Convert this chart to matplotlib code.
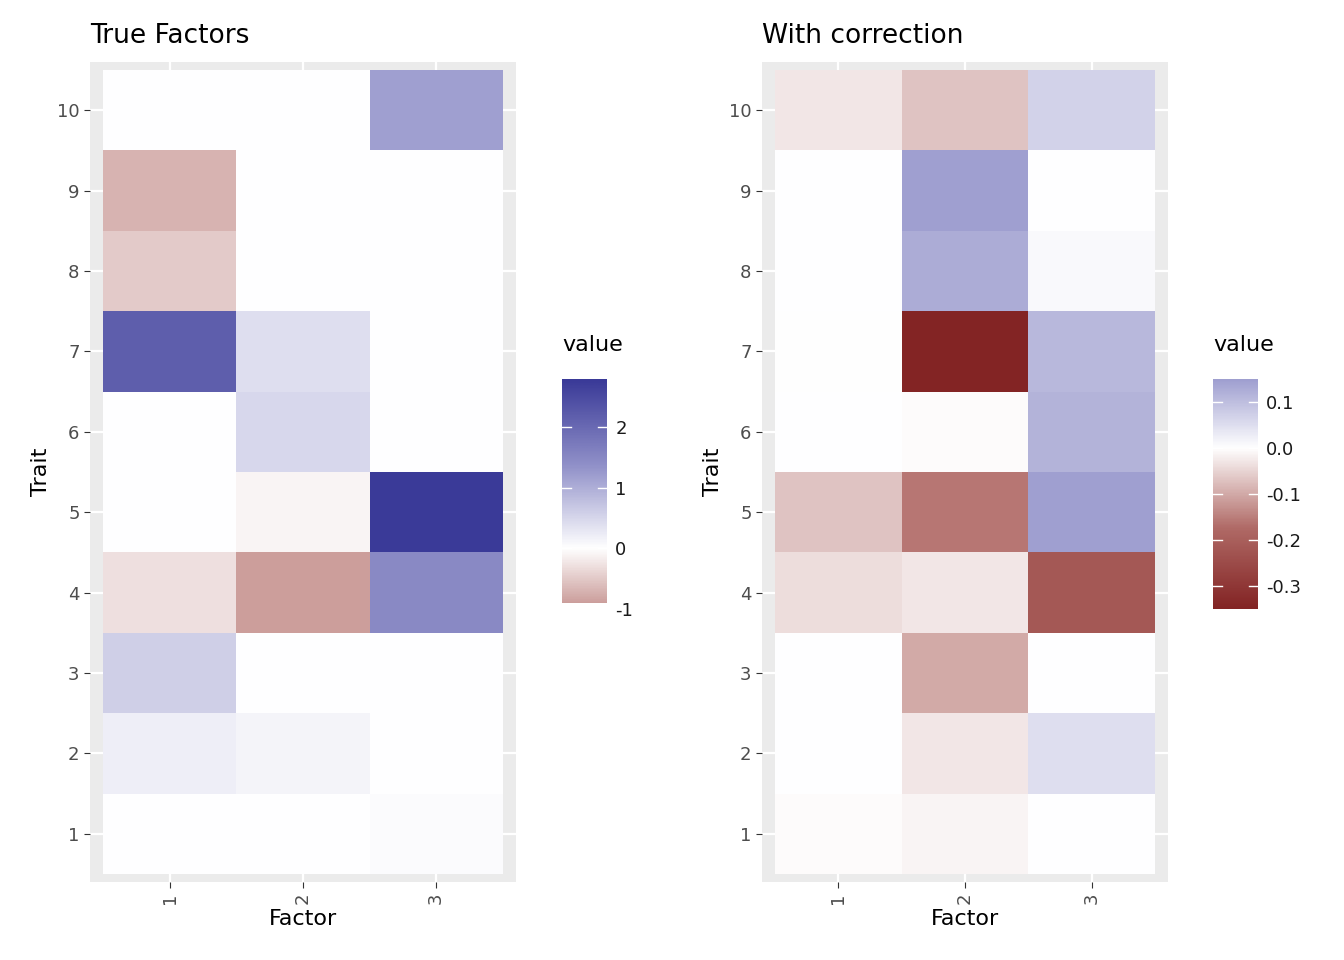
import matplotlib
matplotlib.use("Agg")
import matplotlib.pyplot as plt
import numpy as np
from matplotlib.colors import LinearSegmentedColormap, Normalize

traits = list(range(1, 11))
factors = [1, 2, 3]

# rows: trait 1..10, cols: factor 1..3
true_vals = np.array([
    [0.0, 0.0, 0.05],
    [0.2, 0.15, 0.0],
    [0.6, 0.0, 0.0],
    [-0.3, -0.9, 1.5],
    [0.0, -0.1, 2.8],
    [0.0, 0.5, 0.0],
    [2.2, 0.4, 0.0],
    [-0.5, 0.0, 0.0],
    [-0.7, 0.0, 0.0],
    [0.0, 0.0, 1.2],
])
corr_vals = np.array([
    [-0.004, -0.012, 0.0],
    [0.0, -0.03, 0.05],
    [0.0, -0.10, 0.0],
    [-0.04, -0.03, -0.22],
    [-0.07, -0.16, 0.15],
    [0.0, -0.005, 0.12],
    [-0.002, -0.35, 0.11],
    [0.0, 0.13, 0.01],
    [0.0, 0.15, 0.0],
    [-0.03, -0.07, 0.07],
])

cmap = LinearSegmentedColormap.from_list(
    "div", ["#832424", "#b06a66", "#ffffff", "#8f8fc8", "#3a3a98"])
BG = "#EBEBEB"

fig = plt.figure(figsize=(13.44, 9.6), dpi=100)
W, H = 1344, 960


def px_axes(x0, y0, x1, y1):
    return fig.add_axes([x0 / W, 1 - y1 / H, (x1 - x0) / W, (y1 - y0) / H])


def panel(vals, title, box, cbox, ticks):
    m = np.abs(vals).max()
    norm = Normalize(-m, m)
    ax = px_axes(*box)
    ax.set_facecolor(BG)
    for v in factors:
        ax.axvline(v, color="white", lw=1.6, zorder=0)
    for v in traits:
        ax.axhline(v, color="white", lw=1.6, zorder=0)
    for i, t in enumerate(traits):
        for j, f in enumerate(factors):
            ax.add_patch(plt.Rectangle((f - 0.5, t - 0.5), 1, 1,
                                       color=cmap(norm(vals[i, j])), lw=0, zorder=1))
    ax.set_xlim(0.4, 3.6)
    ax.set_ylim(0.4, 10.6)
    ax.set_xticks(factors)
    ax.set_xticklabels([str(f) for f in factors], rotation=90, color="#4d4d4d", fontsize=13)
    ax.set_yticks(traits)
    ax.set_yticklabels([str(t) for t in traits], color="#4d4d4d", fontsize=13)
    ax.tick_params(color="#333333", length=4)
    for s in ax.spines.values():
        s.set_visible(False)
    ax.set_xlabel("Factor", fontsize=16)
    ax.set_ylabel("Trait", fontsize=16)
    ax.set_title(title, loc="left", fontsize=19, pad=14, x=0.0)

    cax = px_axes(*cbox)
    lo, hi = vals.min(), vals.max()
    grad = np.linspace(lo, hi, 256).reshape(-1, 1)
    cax.imshow(grad, aspect="auto", origin="lower", cmap=cmap, norm=norm,
               extent=[0, 1, lo, hi])
    cax.set_xlim(0, 1)
    cax.set_ylim(lo, hi)
    cax.set_xticks([])
    cax.yaxis.tick_right()
    cax.set_yticks(ticks)
    cax.set_yticklabels([f"{t:.1f}" if abs(t) < 1 and ticks[0] > -1 else f"{t:g}" for t in ticks],
                        fontsize=13, color="#1a1a1a")
    cax.tick_params(axis="y", length=0, pad=6)
    for t in ticks:
        cax.plot([0, 0.2], [t, t], color="white", lw=1)
        cax.plot([0.8, 1], [t, t], color="white", lw=1)
    for s in cax.spines.values():
        s.set_visible(False)
    fig.text(cbox[0] / W, 1 - (cbox[1] - 28) / H, "value", fontsize=16)


panel(true_vals, "True Factors", (90, 62, 516, 882), (562, 379, 607, 609), [-1, 0, 1, 2])
panel(corr_vals, "With correction", (762, 62, 1168, 882), (1213, 379, 1258, 609), [-0.3, -0.2, -0.1, 0.0, 0.1])

fig.savefig("out.png", dpi=100)
